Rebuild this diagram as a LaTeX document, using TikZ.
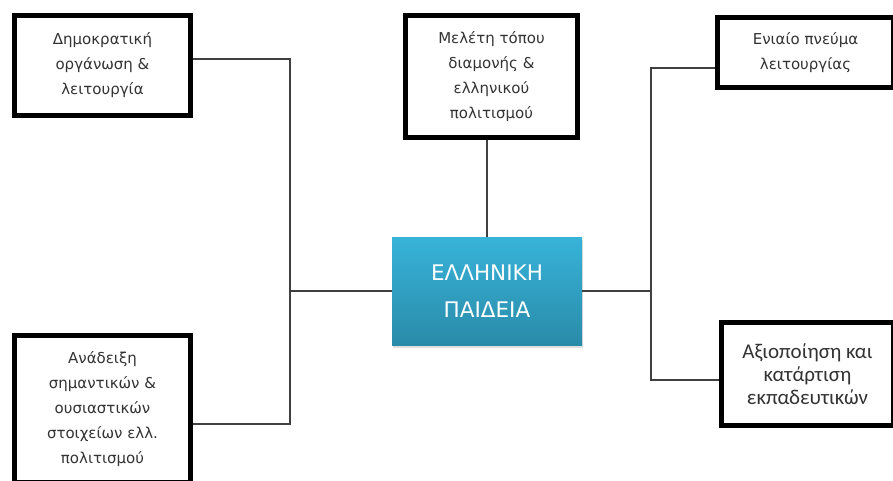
\documentclass[tikz,border=0pt]{standalone}
\usepackage{fontspec}
\setmainfont{DejaVu Sans}
\newfontfamily\calibrifont{Carlito}
\usetikzlibrary{shadows}
\definecolor{paitop}{HTML}{37B3D9}
\definecolor{paibot}{HTML}{2A8BA9}

\begin{document}
\begin{tikzpicture}[x=1pt,y=-1pt,
  box/.style={draw=black,line width=4.5pt,fill=white,align=center,text=black!80,
              font=\fontsize{15}{25}\selectfont,inner sep=2pt},
  boxc/.style={box,font=\calibrifont\fontsize{21}{23}\selectfont},
  core/.style={top color=paitop,bottom color=paibot,text=white,align=center,
               font=\fontsize{21.5}{37}\selectfont,
               drop shadow={shadow xshift=1pt,shadow yshift=-3pt,opacity=0.25}},
  conn/.style={draw=black!75,line width=1.3pt}]
\useasboundingbox (0,0) rectangle (893,481);

% ---- boxes ----
\node[box,minimum width=176pt,minimum height=100pt] (dem) at (102.5,65.5) {Δημοκρατική\\οργάνωση \&\\λειτουργία};
\node[box,minimum width=172pt,minimum height=122pt] (mel) at (491.5,76.5) {Μελέτη τόπου\\διαμονής \&\\ελληνικού\\πολιτισμού};
\node[box,minimum width=176pt,minimum height=70pt] (eni) at (805.5,52.5) {Ενιαίο πνεύμα\\λειτουργίας};
\node[box,minimum width=176pt,minimum height=147pt] (ana) at (102.5,409) {Ανάδειξη\\σημαντικών \&\\ουσιαστικών\\στοιχείων ελλ.\\πολιτισμού};
\node[boxc,minimum width=172pt,minimum height=103pt] (axi) at (807.5,374) {Αξιοποίηση και\\κατάρτιση\\εκπαδευτικών};

% ---- centre ----
\node[core,minimum width=190pt,minimum height=108pt] (pai) at (487,291) {ΕΛΛΗΝΙΚΗ\\ΠΑΙΔΕΙΑ};

% ---- connectors ----
\coordinate (ljoin) at (290,291);
\coordinate (rjoin) at (651,291);
\draw[conn] ([yshift=6.5pt]dem.east) -| (ljoin) |- ([yshift=-15pt]ana.east);
\draw[conn] (ljoin) -- (pai.west);
\draw[conn] (pai.north) -- (pai.north |- mel.south);
\draw[conn] ([yshift=-15.5pt]eni.west) -| (rjoin) |- ([yshift=-6pt]axi.west);
\draw[conn] (rjoin) -- (pai.east);
\end{tikzpicture}
\end{document}
